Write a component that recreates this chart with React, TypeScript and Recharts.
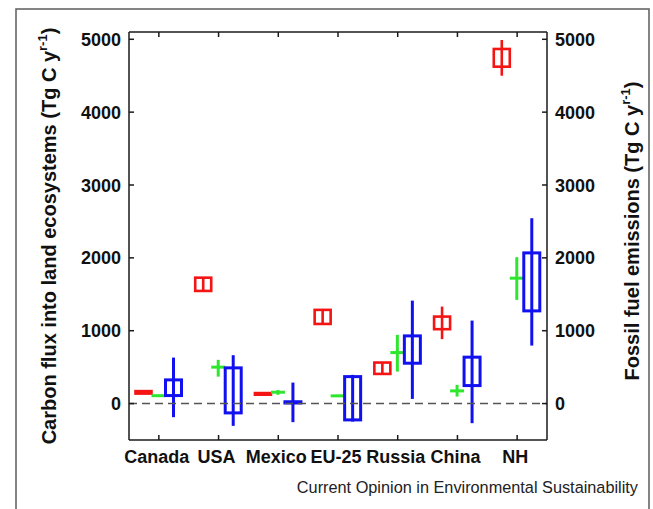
import React from 'react';
import { ComposedChart, Bar, XAxis, YAxis, ReferenceLine } from 'recharts';

const categories = ['Canada', 'USA', 'Mexico', 'EU-25', 'Russia', 'China', 'NH'];
const yTicks = [0, 1000, 2000, 3000, 4000, 5000];

// Fossil fuel emissions (red): box and whisker
const fossilBoxLow = [137, 1546, 122, 1093, 407, 1021, 4624];
const fossilBoxHigh = [171, 1728, 144, 1286, 563, 1194, 4867];
const fossilWhiskLow = [137, 1546, 122, 1093, 407, 884, 4500];
const fossilWhiskHigh = [171, 1728, 144, 1286, 563, 1331, 4990];

// Green estimate: median with range
const greenMedian = [108, 500, 156, 106, 700, 174, 1721];
const greenLow = [95, 370, 120, 92, 439, 96, 1423];
const greenHigh = [120, 600, 185, 120, 943, 257, 2009];

// Blue estimate: box and whisker
const blueBoxLow = [110, -128, 8, -224, 554, 247, 1272];
const blueBoxHigh = [325, 490, 25, 370, 929, 637, 2068];
const blueWhiskLow = [-187, -306, -255, -247, 64, -269, 796];
const blueWhiskHigh = [631, 664, 288, 394, 1413, 1139, 2544];

const RED = '#f41414';
const GREEN = '#2ee62e';
const BLUE = '#1010f0';
const AXIS = '#1a1a1a';
const FONT = '"Liberation Sans", Arial, Helvetica, sans-serif';

const data = categories.map((name, i) => ({
  name,
  redBoxLow: fossilBoxLow[i],
  redBoxHigh: fossilBoxHigh[i],
  redWhiskLow: fossilWhiskLow[i],
  redWhiskHigh: fossilWhiskHigh[i],
  redRange: [
    Math.min(fossilBoxLow[i], fossilWhiskLow[i]),
    Math.max(fossilBoxHigh[i], fossilWhiskHigh[i]),
  ],
  greenMedian: greenMedian[i],
  greenWhiskLow: greenLow[i],
  greenWhiskHigh: greenHigh[i],
  greenRange: [greenLow[i], greenHigh[i]],
  blueBoxLow: blueBoxLow[i],
  blueBoxHigh: blueBoxHigh[i],
  blueWhiskLow: blueWhiskLow[i],
  blueWhiskHigh: blueWhiskHigh[i],
  blueRange: [
    Math.min(blueBoxLow[i], blueWhiskLow[i]),
    Math.max(blueBoxHigh[i], blueWhiskHigh[i]),
  ],
}));

function pixelMapper(props: any, prefix: string) {
  const { y, height, payload } = props;
  const [lo, hi] = payload[prefix + 'Range'];
  const top = Math.min(y, y + height);
  const bot = Math.max(y, y + height);
  return (v: number) => (hi === lo ? top : top + ((hi - v) / (hi - lo)) * (bot - top));
}

function makeBoxShape(prefix: string, color: string, boxW: number, sw: number) {
  return (props: any) => {
    const { x, width, payload } = props;
    const py = pixelMapper(props, prefix);
    const cx = x + width / 2;
    const bTop = py(payload[prefix + 'BoxHigh']);
    const bBot = py(payload[prefix + 'BoxLow']);
    return (
      <g>
        <line
          x1={cx}
          x2={cx}
          y1={py(payload[prefix + 'WhiskHigh'])}
          y2={py(payload[prefix + 'WhiskLow'])}
          stroke={color}
          strokeWidth={sw}
        />
        <rect
          x={cx - boxW / 2}
          y={bTop}
          width={boxW}
          height={Math.max(bBot - bTop, 0.5)}
          fill="none"
          stroke={color}
          strokeWidth={sw}
        />
      </g>
    );
  };
}

function makeCrossShape(prefix: string, color: string, lineW: number, sw: number) {
  return (props: any) => {
    const { x, width, payload } = props;
    const py = pixelMapper(props, prefix);
    const cx = x + width / 2;
    const my = py(payload[prefix + 'Median']);
    return (
      <g>
        <line
          x1={cx}
          x2={cx}
          y1={py(payload[prefix + 'WhiskHigh'])}
          y2={py(payload[prefix + 'WhiskLow'])}
          stroke={color}
          strokeWidth={sw}
        />
        <line x1={cx - lineW / 2} x2={cx + lineW / 2} y1={my} y2={my} stroke={color} strokeWidth={sw} />
      </g>
    );
  };
}

const redShape = makeBoxShape('red', RED, 16, 2.6);
const greenShape = makeCrossShape('green', GREEN, 14, 3);
const blueShape = makeBoxShape('blue', BLUE, 16, 3);

const TICK_GAP = 8;
const TICK_LEN = 5;

const LeftTick = (props: any) => {
  const { x, y, payload } = props;
  return (
    <g>
      <line x1={x + TICK_GAP} x2={x + TICK_GAP + TICK_LEN} y1={y} y2={y} stroke={AXIS} strokeWidth={1.5} />
      <text x={x} y={y} dy={6.5} textAnchor="end" fontSize={18} fontWeight="bold" fill="#111" fontFamily={FONT}>
        {payload.value}
      </text>
    </g>
  );
};

const RightTick = (props: any) => {
  const { x, y, payload } = props;
  return (
    <g>
      <line x1={x - TICK_GAP} x2={x - TICK_GAP - TICK_LEN} y1={y} y2={y} stroke={AXIS} strokeWidth={1.5} />
      <text x={x} y={y} dy={6.5} textAnchor="start" fontSize={18} fontWeight="bold" fill="#111" fontFamily={FONT}>
        {payload.value}
      </text>
    </g>
  );
};

const BottomTick = (props: any) => {
  const { x, y, payload } = props;
  return (
    <g>
      <line x1={x} x2={x} y1={y} y2={y - TICK_LEN} stroke={AXIS} strokeWidth={1.5} />
      <text x={x - 2} y={y + 23} textAnchor="middle" fontSize={18} fontWeight="bold" fill="#111" fontFamily={FONT}>
        {payload.value}
      </text>
    </g>
  );
};

const TopTick = (props: any) => {
  const { x, y } = props;
  return <line x1={x} x2={x} y1={y} y2={y + TICK_LEN} stroke={AXIS} strokeWidth={1.5} />;
};

export default function App() {
  return (
    <div style={{ position: 'absolute', left: 0, top: 0, width: 653, height: 509, background: '#fff' }}>
      <ComposedChart
        width={653}
        height={509}
        data={data}
        margin={{ top: 0, right: 0, bottom: 0, left: 0 }}
        barSize={15}
        barGap={0}
      >
        <XAxis
          dataKey="name"
          xAxisId="bottom"
          orientation="bottom"
          height={69}
          interval={0}
          axisLine={{ stroke: AXIS, strokeWidth: 1.5 }}
          tickLine={false}
          tickSize={0}
          tickMargin={0}
          tick={<BottomTick />}
        />
        <XAxis
          dataKey="name"
          xAxisId="top"
          orientation="top"
          height={32}
          interval={0}
          axisLine={{ stroke: AXIS, strokeWidth: 1.5 }}
          tickLine={false}
          tickSize={0}
          tickMargin={0}
          tick={<TopTick />}
        />
        <YAxis
          yAxisId="left"
          orientation="left"
          width={129}
          domain={[-500, 5100]}
          ticks={yTicks}
          allowDataOverflow
          axisLine={{ stroke: AXIS, strokeWidth: 1.5 }}
          tickLine={false}
          tickSize={0}
          tickMargin={TICK_GAP}
          tick={<LeftTick />}
        />
        <YAxis
          yAxisId="right"
          orientation="right"
          width={106}
          domain={[-500, 5100]}
          ticks={yTicks}
          allowDataOverflow
          axisLine={{ stroke: AXIS, strokeWidth: 1.5 }}
          tickLine={false}
          tickSize={0}
          tickMargin={TICK_GAP}
          tick={<RightTick />}
        />
        <ReferenceLine
          y={0}
          yAxisId="left"
          xAxisId="bottom"
          stroke="#555"
          strokeWidth={1.6}
          strokeDasharray="8 5"
        />
        <Bar
          dataKey="redRange"
          xAxisId="bottom"
          yAxisId="right"
          fill="none"
          shape={redShape}
          isAnimationActive={false}
        />
        <Bar
          dataKey="greenRange"
          xAxisId="bottom"
          yAxisId="left"
          fill="none"
          shape={greenShape}
          isAnimationActive={false}
        />
        <Bar
          dataKey="blueRange"
          xAxisId="bottom"
          yAxisId="left"
          fill="none"
          shape={blueShape}
          isAnimationActive={false}
        />
      </ComposedChart>
      <svg
        width={653}
        height={509}
        style={{ position: 'absolute', left: 0, top: 0, pointerEvents: 'none' }}
      >
        <rect x={16} y={9} width={633} height={520} fill="none" stroke="#666" strokeWidth={1.6} />
        <text
          x={56}
          y={236}
          transform="rotate(-90, 56, 236)"
          textAnchor="middle"
          fontSize={20}
          fontWeight="bold"
          fill="#111"
          fontFamily={FONT}
        >
          Carbon flux into land ecosystems (Tg C y
          <tspan dy={-9} fontSize={13}>r-1</tspan>
          <tspan dy={9}>)</tspan>
        </text>
        <text
          x={639}
          y={231}
          transform="rotate(-90, 639, 231)"
          textAnchor="middle"
          fontSize={20}
          fontWeight="bold"
          fill="#111"
          fontFamily={FONT}
        >
          Fossil fuel emissions (Tg C y
          <tspan dy={-9} fontSize={13}>r-1</tspan>
          <tspan dy={9}>)</tspan>
        </text>
        <text x={638} y={493} textAnchor="end" fontSize={16.3} fill="#222" fontFamily={FONT}>
          Current Opinion in Environmental Sustainability
        </text>
      </svg>
    </div>
  );
}
